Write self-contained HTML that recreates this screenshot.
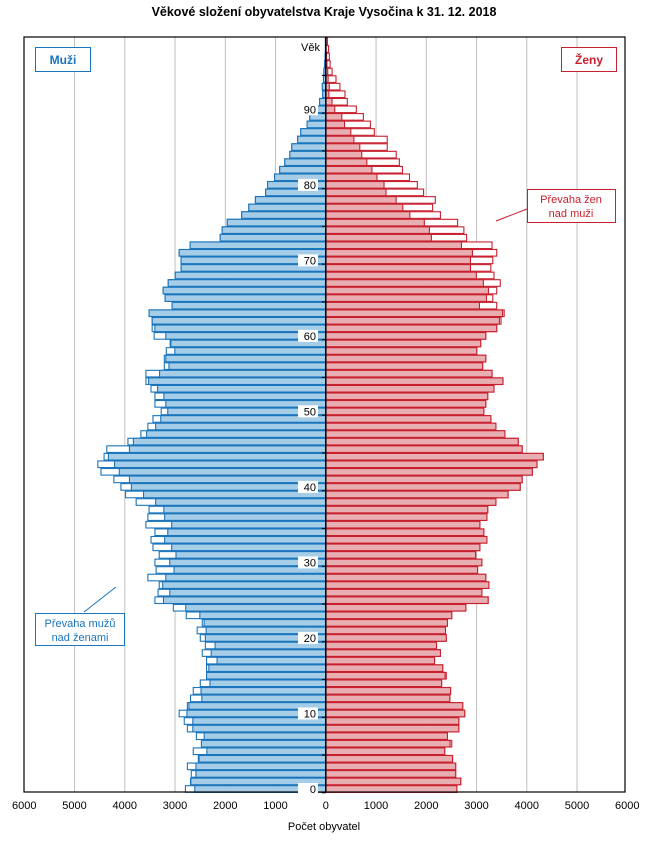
<!DOCTYPE html>
<html><head><meta charset="utf-8"><style>
body{margin:0;background:#fff;width:648px;height:854px;overflow:hidden;font-family:"Liberation Sans",sans-serif}
</style></head><body>
<svg id="s" width="648" height="854" xmlns="http://www.w3.org/2000/svg" style="font-family:'Liberation Sans',sans-serif">
<rect width="648" height="854" fill="#fff"/>
<text x="324" y="16" text-anchor="middle" font-size="12.5" font-weight="bold">Věkové složení obyvatelstva Kraje Vysočina k 31. 12. 2018</text>
<g id="grid"></g>
<g id="bars"></g>
<rect x="24" y="37" width="601" height="755" fill="none" stroke="#000" stroke-width="1.2"/>
<line x1="325.8" y1="37" x2="325.8" y2="792" stroke="#000" stroke-width="1.5"/>
<g id="ticks"></g>
<g id="agelab" font-size="11" text-anchor="end"></g>
<text x="320" y="51" font-size="11" text-anchor="end">Věk</text>
<g id="xl" font-size="11" text-anchor="middle"></g>
<text x="324" y="830" font-size="11" text-anchor="middle">Počet obyvatel</text>
<rect x="35.5" y="47.5" width="55" height="24" fill="#fff" stroke="#1a75bc"/>
<text x="63" y="64" font-size="12" font-weight="bold" fill="#1a75bc" text-anchor="middle">Muži</text>
<rect x="561.5" y="47.5" width="55" height="24" fill="#fff" stroke="#c8202f"/>
<text x="589" y="64" font-size="12" font-weight="bold" fill="#c8202f" text-anchor="middle">Ženy</text>
<line x1="496" y1="221" x2="527" y2="209" stroke="#c8202f"/>
<rect x="527.5" y="189.5" width="88" height="33" fill="#fff" stroke="#c8202f"/>
<text x="571" y="203" font-size="11" fill="#c8202f" text-anchor="middle">Převaha žen</text>
<text x="571" y="217" font-size="11" fill="#c8202f" text-anchor="middle">nad muži</text>
<line x1="84" y1="612" x2="116" y2="587" stroke="#1a75bc"/>
<rect x="35.5" y="613.5" width="89" height="32" fill="#fff" stroke="#1a75bc"/>
<text x="80" y="627" font-size="11" fill="#1a75bc" text-anchor="middle">Převaha mužů</text>
<text x="80" y="641" font-size="11" fill="#1a75bc" text-anchor="middle">nad ženami</text>
</svg>
<script>
(function(){
var M=[423,436,438,428,456,443,464,451,428,420,407,428,436,443,461,477,477,477,466,474,461,453,466,425,392,345,353,356,327,348,345,356,340,335,345,322,327,330,297,270,258,240,207,199,215,222,276,309,327,340,361,345,345,335,322,322,369,369,374,384,343,338,338,330,389,371,366,379,397,412,412,407,435,512,517,530,567,585,602,628,633,651,664,677,690,695,710,718,734,741,759,766,774,773,776,777,779,780,781,781];
var F=[1117,1127,1114,1114,1106,1086,1104,1093,1122,1122,1137,1132,1099,1101,1078,1090,1081,1060,1075,1065,1090,1088,1093,1104,1140,1197,1181,1199,1191,1170,1181,1165,1176,1194,1186,1176,1194,1196,1217,1248,1279,1284,1310,1322,1338,1284,1274,1240,1217,1204,1186,1191,1196,1212,1235,1207,1183,1191,1168,1178,1191,1219,1230,1238,1219,1209,1219,1228,1212,1204,1209,1219,1207,1142,1135,1119,1075,1055,1062,1032,1016,996,978,970,962,939,939,906,896,878,860,837,831,818,808,798,793,791,789,786];
var ns="http://www.w3.org/2000/svg";
function el(p,t,a){var e=document.createElementNS(ns,t);for(var k in a)e.setAttribute(k,a[k]);document.getElementById(p).appendChild(e);return e;}
var C=325.8,S=50.25;
for(var k=-5;k<=5;k++){if(k==0)continue;var x=C+k*S;el("grid","line",{x1:x,y1:37,x2:x,y2:792,stroke:"#c0c0c0","stroke-width":1});}
for(var k=-6;k<=6;k++){var t=el("xl","text",{x:C+k*S,y:809});t.textContent=Math.abs(k*1000);}
function X(z){return 20+z/2.557;}
for(var a=0;a<M.length;a++){
 var y=789-a*7.552,h=6.6,ty=y-h/2;
 var mx=X(M[a]),fx=X(F[a]);
 var mv=C-mx, fv=fx-C, mn=Math.min(mv,fv);
 el("bars","rect",{x:C-mv,y:ty,width:mv,height:h,fill:"#fff",stroke:"#1a75bc","stroke-width":1.1});
 el("bars","rect",{x:C-mn,y:ty,width:mn,height:h,fill:"#a6cde8",stroke:"#1a75bc","stroke-width":1.1});
 el("bars","rect",{x:C,y:ty,width:fv,height:h,fill:"#fff",stroke:"#c8202f","stroke-width":1.1});
 el("bars","rect",{x:C,y:ty,width:mn,height:h,fill:"#e8aeb2",stroke:"#c8202f","stroke-width":1.1});
 if(a%5==0) el("ticks","line",{x1:C-4,y1:y+3.8,x2:C,y2:y+3.8,stroke:"#000"});
 if(a%10==0&&a<100){el("agelab","rect",{x:298,y:y-6,width:20,height:12,fill:"#fff"});var tt=el("agelab","text",{x:316,y:y+4});tt.textContent=a;}
}
})();
</script>
</body></html>
